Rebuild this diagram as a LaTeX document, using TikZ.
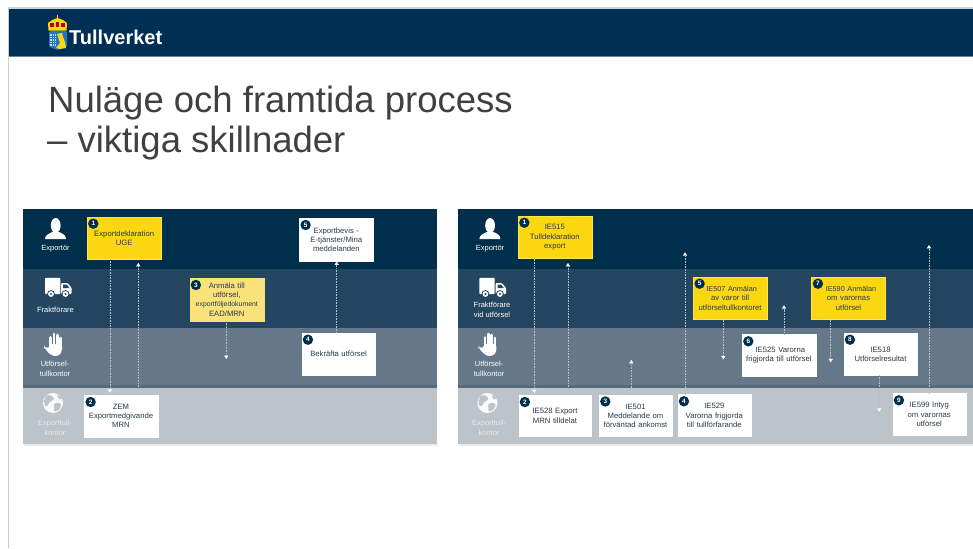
\documentclass[tikz,border=0pt]{standalone}
\usepackage{fontspec}
\setmainfont{Liberation Sans}
\usetikzlibrary{arrows.meta,shadows}
\definecolor{header}{HTML}{002F55}
\definecolor{bandA}{HTML}{002F4B}
\definecolor{bandB}{HTML}{254660}
\definecolor{bandC}{HTML}{64788A}
\definecolor{bandD}{HTML}{BCC4CA}
\definecolor{sepC}{HTML}{556A7B}
\definecolor{gold}{HTML}{FBD711}
\definecolor{palegold}{HTML}{F9E27A}
\definecolor{ink}{HTML}{2B3A45}
\definecolor{titleink}{HTML}{404040}
\definecolor{flowline}{HTML}{B4C0C9}
\definecolor{shieldblue}{HTML}{1F78C1}
\tikzset{
  band/.style={draw=none},
  boxtext/.style={font=\fontsize{7.7}{9.2}\selectfont,text=ink,align=center,inner sep=0pt},
  whitebox/.style={boxtext,fill=white,draw=white,line width=.2pt},
  goldbox/.style={boxtext,fill=gold,draw=gold!70!white,line width=.3pt},
  palebox/.style={boxtext,fill=palegold,draw=palegold,line width=.2pt,drop shadow={shadow xshift=.8pt,shadow yshift=-.8pt,opacity=.35}},
  badge/.style={circle,fill=bandA,draw=none,text=white,inner sep=0pt,minimum size=10.4pt,font=\bfseries\fontsize{6.4}{6.4}\selectfont},
  rolelabel/.style={font=\fontsize{7.5}{10}\selectfont,text=white,align=center,inner sep=0pt},
  faintlabel/.style={rolelabel,text=bandD!35!white},
  flow/.style={draw=flowline,line width=.45pt,dash pattern=on .9pt off .7pt,
    -{Triangle[width=4.2pt,length=3.4pt,fill=white,color=white,sep=0pt]}},
  icon/.style={fill=white,draw=none},
}
\newcommand{\stepbox}[8]{%
  \pgfmathsetmacro{\bxc}{(#3+#5)/2}\pgfmathsetmacro{\byc}{(#4+#6)/2}%
  \pgfmathsetmacro{\bw}{#5-#3-.6}\pgfmathsetmacro{\bh}{#6-#4-.4}%
  \pgfmathsetmacro{\bnx}{#3+6.6}\pgfmathsetmacro{\bny}{#4+7}%
  \pgfmathsetmacro{\btw}{\bw-3}%
  \node[#2,minimum width=\bw pt,minimum height=\bh pt,text width=\btw pt] (#1) at (\bxc,\byc) {#8};
  \node[badge] (#1n) at (\bnx,\bny) {#7};
}
\newcommand{\roleicons}{%
  % person
  \fill[icon] (55.7,225.5) ellipse[x radius=4.9pt,y radius=7.5pt];
  \fill[icon] (45,239) .. controls (45,235) and (49,233.6) .. (52.5,232) -- (59,232)
     .. controls (62.5,233.6) and (66,235) .. (66,239) -- cycle;
  % truck
  \fill[icon,rounded corners=.8pt] (45,277.8) rectangle (60.3,294);
  \fill[icon,rounded corners=1pt] (61.2,283) -- (67.5,283) -- (71.7,288) -- (71.7,294) -- (61.2,294) -- cycle;
  \fill[bandB] (63.2,284.6) -- (66.8,284.6) -- (69.3,288) -- (63.2,288) -- cycle;
  \foreach \wx in {51,65.5}{
    \fill[bandB] (\wx,294) circle[radius=3.9pt];
    \fill[white] (\wx,294) circle[radius=2.9pt];
    \fill[bandB] (\wx,294) circle[radius=1.1pt];
  }
  % hand
  \foreach \fx/\ft in {50.6/337.5,54/334,57.4/335,60.6/338}{
    \draw[white,line width=2.9pt,line cap=round] (\fx,\ft) -- (\fx,349);
  }
  \fill[icon,rounded corners=3pt] (49.2,344) -- (62,344) -- (62,352) -- (58.5,356) -- (52,356) -- (44,348) -- (44.5,346) -- (49.2,349) -- cycle;
  % globe
  \fill[white!92!bandD] (53,403) circle[radius=10pt];
  \fill[bandD] (46,396) .. controls (50,394) and (53,396) .. (54,399) .. controls (52,402) and (49,401) .. (48,405) .. controls (46,408) and (44,405) .. (44,401) -- cycle;
  \fill[bandD] (54,404) .. controls (58,402) and (62,403) .. (61,406) .. controls (60,410) and (56,412) .. (54,411) -- cycle;
  \fill[bandD] (57,395) .. controls (60,395) and (61,397) .. (62,399) -- (59,399) -- cycle;
}
\begin{document}
\begin{tikzpicture}[x=1pt,y=-1pt]
\useasboundingbox (0,0) rectangle (973,548);
\fill[white] (0,0) rectangle (973,548);
% slide frame and header
\fill[black!18] (8,7) rectangle (973,9.3);
\fill[black!20] (8,7) rectangle (9,548);
\fill[header] (9,9.3) rectangle (973,56);
\fill[header!60!white] (9,55.6) rectangle (973,56.3);
% logo
\fill[shieldblue,rounded corners=1.5pt] (49.2,31) -- (67,31) -- (67,47) -- (58,50) -- (49.2,47) -- cycle;
\fill[white!75!shieldblue] (50,34) rectangle (56,46);
\foreach \gy in {36,38.5,41,43.5}{\draw[shieldblue,line width=.5pt] (50,\gy) -- (56,\gy);}
\foreach \gx in {52,54}{\draw[shieldblue,line width=.5pt] (\gx,34) -- (\gx,46);}
\fill[gold] (57,34) -- (62,33) -- (63,37) -- (65,42) -- (66,48) -- (60,49) -- (56,48) -- (60,43) -- cycle;
\fill[gold] (48.5,30.6) -- (48,23) -- (52,20) -- (57.5,18) -- (63,20) -- (67,23) -- (66.5,30.6) -- cycle;
\fill[red!75!black] (50,23.5) rectangle (54,27);
\fill[red!75!black] (55.6,22) rectangle (59.4,27);
\fill[red!75!black] (61,23.5) rectangle (65,27);
\draw[gold,line width=.8pt] (57.5,15) -- (57.5,19);
\node[font=\bfseries\fontsize{20}{20}\selectfont,text=white,anchor=base west,inner sep=0pt] (brand) at (69,45) {Tullverket};
% title
\node[font=\fontsize{36.5}{36.5}\selectfont,text=titleink,anchor=base west,inner sep=0pt] (title1) at (48,113) {Nuläge och framtida process};
\node[font=\fontsize{36.5}{36.5}\selectfont,text=titleink,anchor=base west,inner sep=0pt] (title2) at (47,152.7) {– viktiga skillnader};
% left panel
\fill[black!8] (23.5,444) rectangle (438,445.5);
\fill[bandA] (23,209) rectangle (437,269);
\fill[bandB] (23,269) rectangle (437,328);
\fill[bandC] (23,328) rectangle (437,387);
\fill[bandD] (23,387) rectangle (437,444);
\fill[sepC] (23,385) rectangle (437,387.5);
\roleicons
\node[rolelabel] (lr1) at (55.5,249) {Exportör};
\node[rolelabel] (lr2) at (55.5,310) {Fraktförare};
\node[rolelabel] (lr3) at (55,368.8) {Utförsel-\\[-.6pt]tullkontor};
\node[faintlabel] (lr4) at (55,428) {Exporttull-\\kontor};
\stepbox{la}{goldbox}{86.7}{216.7}{161.7}{259}{1}{Exportdeklaration\\UGE}
\stepbox{lb}{whitebox}{84}{395}{158}{437}{2}{ZEM\\Exportmedgivande\\MRN}
\stepbox{lc}{palebox}{189.3}{278}{264.3}{321}{3}{Anmäla till\\utförsel,\\{\fontsize{6.9}{9}\selectfont exportföljedokument}\\EAD/MRN}
\stepbox{ld}{whitebox}{301.3}{332.7}{375.7}{375.3}{4}{Bekräfta utförsel}
\stepbox{le}{whitebox}{299}{218}{373.7}{261}{5}{Exportbevis -\\E-tjänster/Mina\\meddelanden}
\coordinate (lf1) at (110,392.6);
\coordinate (lf2) at (138.3,263);
\coordinate (lf3) at (226.3,359);
\draw[flow] (la.south -| lf1) -- (lf1);
\draw[flow] (lb.north -| lf2) -- (lf2);
\draw[flow] (lc.south -| lf3) -- (lf3);
\coordinate (lf4) at (336.7,261.5);
\draw[flow] (ld.north -| lf4) -- (lf4);
% right panel
\fill[black!8] (458.5,444) rectangle (973,445.5);
\fill[bandA] (458,209) rectangle (973,269);
\fill[bandB] (458,269) rectangle (973,328);
\fill[bandC] (458,328) rectangle (973,387);
\fill[bandD] (458,387) rectangle (973,444);
\fill[sepC] (458,385) rectangle (973,387.5);
\begin{scope}[shift={(434.4,0)}]
\roleicons
\end{scope}
\node[rolelabel] (rr1) at (490,249) {Exportör};
\node[rolelabel] (rr2) at (492,310.3) {Fraktförare\\vid utförsel};
\node[rolelabel] (rr3) at (489,368.8) {Utförsel-\\[-.6pt]tullkontor};
\node[faintlabel] (rr4) at (489,428) {Exporttull-\\kontor};
\stepbox{ra}{goldbox}{517.7}{215.7}{592}{258.7}{1}{IE515\\Tulldeklaration\\export}
\stepbox{rb}{whitebox}{518.3}{395}{591.7}{436.7}{2}{IE528 Export\\MRN tilldelat}
\stepbox{rc}{whitebox}{598.7}{394.5}{672.3}{436.7}{3}{IE501\\Meddelande om\\förväntad ankomst}
\stepbox{rd}{whitebox}{677.3}{394.3}{751.3}{436.7}{4}{IE529\\Varorna frigjorda\\till tullförfarande}
\stepbox{re}{goldbox}{693}{276.7}{767.3}{319.7}{5}{\hspace*{3pt}{\fontsize{7.3}{9.2}\selectfont IE507 Anmälan}\\av varor till\\utförseltullkontoret}
\stepbox{rf}{whitebox}{741.7}{334.3}{816}{376.7}{6}{\hspace*{3pt}IE525 Varorna\\frigjorda till utförsel}
\stepbox{rg}{goldbox}{811.3}{276.7}{885.7}{319.7}{7}{\hspace*{5pt}{\fontsize{7.3}{9.2}\selectfont IE590 Anmälan}\\om varornas\\utförsel}
\stepbox{rh}{whitebox}{843.3}{332.7}{917.7}{375.3}{8}{IE518\\Utförselresultat}
\stepbox{ri}{whitebox}{892.3}{393.3}{966}{435.7}{9}{IE599 Intyg\\om varornas\\utförsel}
\coordinate (rf1) at (534.3,393);
\coordinate (rf2) at (568,263);
\coordinate (rf3) at (631.3,360);
\coordinate (rf4) at (685,252.3);
\coordinate (rf5) at (723.3,359.3);
\coordinate (rf6) at (784,305.3);
\coordinate (rf7) at (830.7,362.3);
\coordinate (rf8) at (879.3,411.7);
\coordinate (rf9) at (929,245);
\draw[flow] (ra.south -| rf1) -- (rf1);
\draw[flow] (rb.north -| rf2) -- (rf2);
\draw[flow] (rc.north -| rf3) -- (rf3);
\draw[flow] (rd.north -| rf4) -- (rf4);
\draw[flow] (re.south -| rf5) -- (rf5);
\draw[flow] (rf.north -| rf6) -- (rf6);
\draw[flow] (rg.south -| rf7) -- (rf7);
\draw[flow] (rh.south -| rf8) -- (rf8);
\draw[flow] (ri.north -| rf9) -- (rf9);
\end{tikzpicture}
\end{document}
